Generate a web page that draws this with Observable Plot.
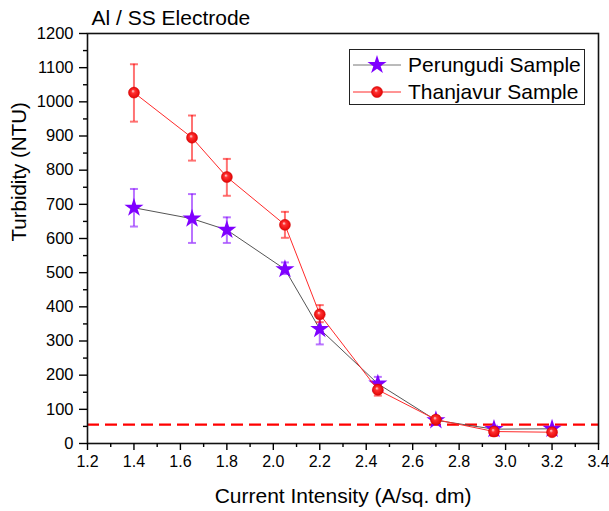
<!DOCTYPE html>
<html><head><meta charset="utf-8">
<script src="https://cdn.jsdelivr.net/npm/d3@7"></script>
<script src="https://cdn.jsdelivr.net/npm/@observablehq/plot@0.6"></script>
<style>
body{margin:0;background:#fff;font-family:Arial,"Liberation Sans",sans-serif}
#wrap{position:relative;width:609px;height:511px}
#legend{position:absolute;left:349px;top:49px;width:234px;height:54px;border:1px solid #222;background:#fff}
#legend svg{display:block}
</style></head><body>
<div id="wrap"><div id="chart"></div><div id="legend"></div></div>
<script>
// ---- data ----
const current = [1.4, 1.65, 1.8, 2.05, 2.2, 2.45, 2.7, 2.95, 3.2];
const perungudi = [690, 658, 625, 510, 335, 175, 68, 42, 43];
const perungudiLow = [635, 587, 587, 496, 290, 155, 58, 32, 38];
const perungudiHigh = [745, 730, 662, 530, 375, 195, 78, 52, 48];
const thanjavur = [1027, 895, 780, 640, 378, 157, 70, 35, 33];
const thanjavurLow = [942, 828, 725, 602, 355, 140, 60, 22, 28];
const thanjavurHigh = [1110, 960, 833, 678, 405, 172, 80, 45, 38];
const threshold = 55;
const xTicks = [1.2, 1.4, 1.6, 1.8, 2.0, 2.2, 2.4, 2.6, 2.8, 3.0, 3.2, 3.4];
const xMinor = [1.3, 1.5, 1.7, 1.9, 2.1, 2.3, 2.5, 2.7, 2.9, 3.1, 3.3];
const yTicks = [0, 100, 200, 300, 400, 500, 600, 700, 800, 900, 1000, 1100, 1200];
const yMinor = [50, 150, 250, 350, 450, 550, 650, 750, 850, 950, 1050, 1150];
const seriesNames = ["Perungudi Sample", "Thanjavur Sample"];
const titleText = "Al / SS Electrode";
const xLabel = "Current Intensity (A/sq. dm)";
const yLabel = "Turbidity (NTU)";

const rows = (name, v, lo, hi) => current.map((x, i) => ({x, y: v[i], lo: lo[i], hi: hi[i], name}));
const P = rows(seriesNames[0], perungudi, perungudiLow, perungudiHigh);
const T = rows(seriesNames[1], thanjavur, thanjavurLow, thanjavurHigh);

const cap = {draw(ctx, size) { const r = Math.sqrt(size / Math.PI); ctx.moveTo(-r, 0); ctx.lineTo(r, 0); }};
const purple = "#7f00ff", red = "#ff0000";
const font = "Arial, 'Liberation Sans', sans-serif";

const errMarks = (D, color) => [
  Plot.ruleX(D, {x: "x", y1: "lo", y2: "hi", stroke: color, strokeOpacity: 0.55, strokeWidth: 2}),
  Plot.dot(D, {x: "x", y: "lo", symbol: cap, r: 4, stroke: color, strokeOpacity: 0.55, strokeWidth: 2, fill: "none"}),
  Plot.dot(D, {x: "x", y: "hi", symbol: cap, r: 4, stroke: color, strokeOpacity: 0.55, strokeWidth: 2, fill: "none"})
];

const chart = Plot.plot({
  width: 609, height: 511,
  marginLeft: 87, marginRight: 11, marginTop: 33, marginBottom: 68,
  x: {domain: [1.2, 3.4]},
  y: {domain: [0, 1200]},
  style: {fontFamily: font, fontSize: "16px", color: "#000", background: "#fff", overflow: "visible"},
  marks: [
    Plot.ruleY([threshold], {stroke: red, strokeWidth: 2.2, strokeDasharray: "12,6"}),
    ...errMarks(P, purple),
    Plot.line(P, {x: "x", y: "y", stroke: "#555", strokeWidth: 1}),
    Plot.dot(P, {x: "x", y: "y", symbol: "star", r: 6, fill: purple, stroke: "none"}),
    ...errMarks(T, red),
    Plot.line(T, {x: "x", y: "y", stroke: "#ff2a2a", strokeWidth: 1}),
    Plot.dot(T, {x: "x", y: "y", r: 5.5, fill: "url(#sphere)", stroke: "#d00000", strokeWidth: 0.5}),
    Plot.frame({stroke: "#111", strokeWidth: 1.6}),
    Plot.axisX({ticks: xTicks, tickSize: 7, tickPadding: 5, strokeWidth: 1.4, tickFormat: d3.format(".1f"), label: null, fontSize: 16}),
    Plot.axisX({ticks: xMinor, tickSize: 4, strokeWidth: 1.4, tickFormat: () => "", label: null}),
    Plot.axisY({ticks: yTicks, tickSize: 8, tickPadding: 6, strokeWidth: 1.4, tickFormat: d3.format("d"), label: null, fontSize: 16.5}),
    Plot.axisY({ticks: yMinor, tickSize: 4, strokeWidth: 1.4, tickFormat: () => "", label: null}),
    Plot.text([titleText], {text: d => d, frameAnchor: "top-left", lineAnchor: "middle", dy: -15, dx: 4, textAnchor: "start", fontSize: 21}),
    Plot.text([yLabel], {text: d => d, frameAnchor: "left", lineAnchor: "middle", dx: -68.5, dy: 3, rotate: -90, fontSize: 20.5}),
    Plot.text([xLabel], {text: d => d, frameAnchor: "bottom", lineAnchor: "middle", dy: 53, fontSize: 21})
  ]
});

const defs = d3.select(chart).insert("defs", ":first-child");
const g = defs.append("radialGradient").attr("id", "sphere").attr("cx", "50%").attr("cy", "50%").attr("r", "55%").attr("fx", "40%").attr("fy", "35%");
g.append("stop").attr("offset", "0%").attr("stop-color", "#ffe0e0");
g.append("stop").attr("offset", "30%").attr("stop-color", "#ff3030");
g.append("stop").attr("offset", "100%").attr("stop-color", "#e00000");
document.getElementById("chart").appendChild(chart);

// legend
const lg = d3.select("#legend").append("svg").attr("width", 234).attr("height", 54)
  .style("font-family", font).style("font-size", "21px");
const lDefs = lg.append("defs");
const g2 = lDefs.append("radialGradient").attr("id", "sphere2").attr("cx", "50%").attr("cy", "50%").attr("r", "55%").attr("fx", "40%").attr("fy", "35%");
g2.append("stop").attr("offset", "0%").attr("stop-color", "#ffe0e0");
g2.append("stop").attr("offset", "30%").attr("stop-color", "#ff3030");
g2.append("stop").attr("offset", "100%").attr("stop-color", "#e00000");
const legendRows = [
  {name: seriesNames[0], y: 15, line: "#777", marker: "star"},
  {name: seriesNames[1], y: 42, line: "#ff2a2a", marker: "sphere"}
];
legendRows.forEach(r => {
  lg.append("line").attr("x1", 3).attr("x2", 51).attr("y1", r.y).attr("y2", r.y).attr("stroke", r.line).attr("stroke-width", 1);
  if (r.marker === "star") {
    lg.append("path").attr("d", d3.symbol(d3.symbolStar, Math.PI * 36)()).attr("transform", `translate(27,${r.y})`).attr("fill", purple);
  } else {
    lg.append("circle").attr("cx", 27).attr("cy", r.y).attr("r", 5.5).attr("fill", "url(#sphere2)").attr("stroke", "#d00000").attr("stroke-width", 0.5);
  }
  lg.append("text").attr("x", 58).attr("y", r.y).attr("dy", "0.35em").text(r.name);
});
</script>
</body></html>
